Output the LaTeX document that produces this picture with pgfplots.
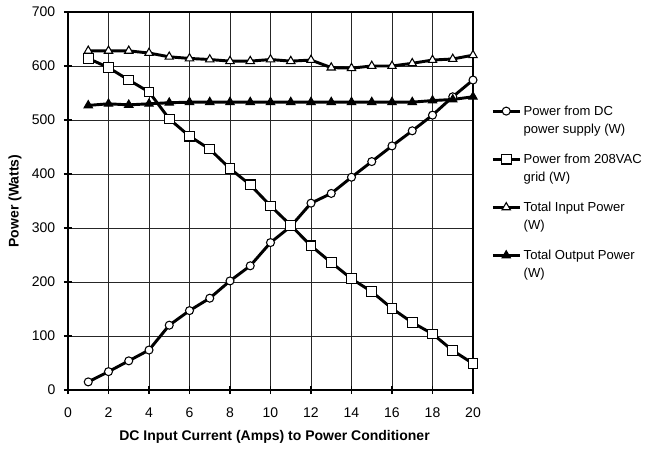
\documentclass[border=0pt]{standalone}
\usepackage{fontspec}
\setmainfont{Liberation Sans}
\usepackage{pgfplots}
\pgfplotsset{compat=1.18}
\begin{document}
\begin{tikzpicture}
\useasboundingbox (-51pt,-47.25pt) rectangle (435.75pt,292.5pt);
\begin{axis}[
  at={(0,0)}, anchor=south west,
  scale only axis, width=303.75pt, height=283.5pt,
  xmin=0, xmax=20, ymin=0, ymax=700,
  xtick={0,2,...,20}, ytick={0,100,...,700},
  grid=major, major grid style={line width=0.6pt, color=black!85},
  axis line style={line width=1.2pt},
  tick pos=left, tick align=center, major tick length=6pt,
  tick style={line width=0.8pt, black},
  /pgf/number format/assume math mode=true,
  ticklabel style={font=\fontsize{10.5}{12}\selectfont},
  xticklabel style={yshift=-7pt},
  yticklabel style={xshift=-3pt},
  xlabel={DC Input Current (Amps) to Power Conditioner},
  ylabel={Power (Watts)},
  label style={font=\bfseries\fontsize{10.5}{12}\selectfont},
  xlabel style={at={(axis description cs:0.51,-0.124)}, anchor=center},
  ylabel style={at={(axis description cs:-0.131,0.5)}, anchor=center},
  legend style={at={(axis description cs:1.035,0.766)}, anchor=north west, draw=none, fill=none,
    font=\fontsize{9.8}{13.5}\selectfont, cells={anchor=base west, align=left}, row sep=10pt},
  legend image code/.code={\draw[mark repeat=2,mark phase=2,#1] plot coordinates {(0pt,16.8pt) (10pt,16.8pt) (20pt,16.8pt)};},
  every axis plot/.append style={line width=2.2pt, black},
]
\addplot[mark=*, mark size=3pt, mark options={solid, line width=0.8pt, fill=white}] coordinates {
(1,15) (2,34) (3,54) (4,74) (5,120) (6,147) (7,170) (8,202) (9,230) (10,273)
(11,303) (12,346) (13,364) (14,394) (15,423) (16,452) (17,480) (18,509) (19,543) (20,574)};
\addlegendentry{Power from DC\\power supply (W)}
\addplot[mark=square*, mark size=3.6pt, mark options={solid, line width=0.8pt, fill=white}] coordinates {
(1,614) (2,597) (3,574) (4,552) (5,502) (6,470) (7,446) (8,410) (9,380) (10,341)
(11,305) (12,267) (13,236) (14,206) (15,182) (16,151) (17,125) (18,104) (19,73) (20,49)};
\addlegendentry{Power from 208VAC\\grid (W)}
\addplot[mark=triangle*, mark size=3.6pt, mark options={solid, line width=0.8pt, fill=white}] coordinates {
(1,628) (2,628) (3,628) (4,624) (5,617) (6,614) (7,612) (8,609) (9,609) (10,612)
(11,609) (12,611) (13,597) (14,596) (15,600) (16,600) (17,605) (18,611) (19,613) (20,620)};
\addlegendentry{Total Input Power\\(W)}
\addplot[mark=triangle*, mark size=3.6pt, mark options={solid, line width=0.8pt, fill=black}] coordinates {
(1,527) (2,530) (3,528) (4,530) (5,532) (6,533) (7,533) (8,533) (9,533) (10,533)
(11,533) (12,533) (13,533) (14,533) (15,533) (16,533) (17,533) (18,536) (19,538) (20,543)};
\addlegendentry{Total Output Power\\(W)}
\end{axis}
\end{tikzpicture}
\end{document}
